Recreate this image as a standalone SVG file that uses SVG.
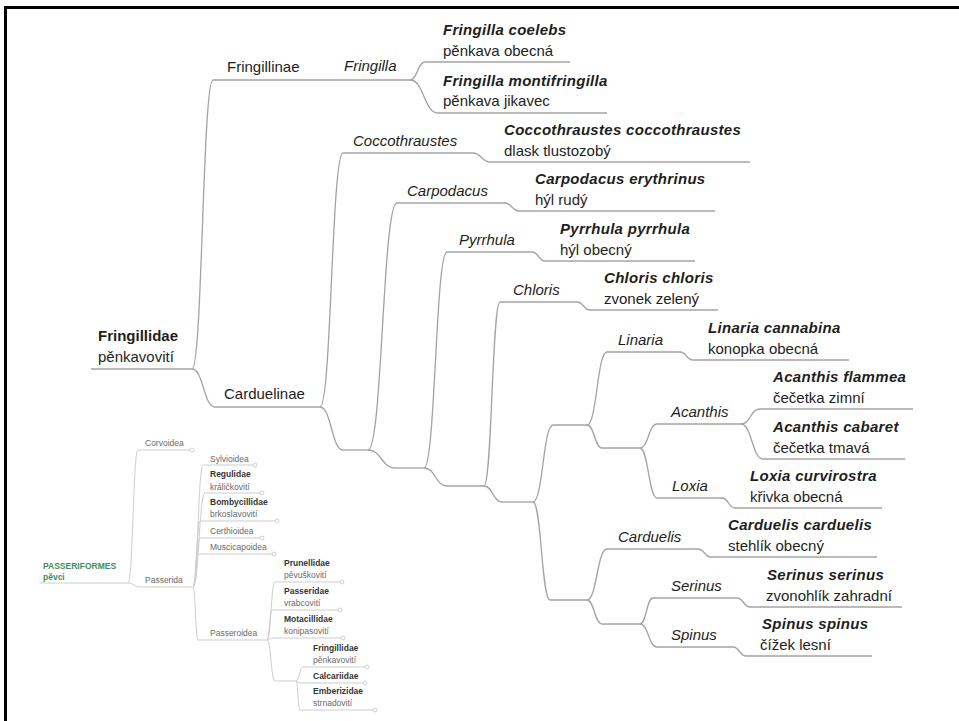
<svg xmlns="http://www.w3.org/2000/svg" width="959" height="721" viewBox="0 0 959 721">
<style>
.ln{fill:none;stroke:#a3a3a3;stroke-width:1.3}
.il{fill:none;stroke:#cdcdcd;stroke-width:1}
.dot{fill:#fff;stroke:#cbcbcb;stroke-width:0.9}
text{font-family:"Liberation Sans",Arial,sans-serif}
.t{font-size:15px;fill:#1e1e1e}
.b{font-weight:bold}
.i{font-style:italic}
.b.i{letter-spacing:0.3px}
.s{font-size:8.5px;fill:#6a6a6a}
.sb{font-size:8.5px;fill:#363636;font-weight:bold}
.gr{font-size:8.5px;fill:#3d8d5f;font-weight:bold}
</style>
<rect width="959" height="721" fill="#fff"/>
<path d="M5.5 721V7.5H959" fill="none" stroke="#000" stroke-width="3"/>

<g id="connectors">
<path class="ln" d="M192 369C202.5 369 202.5 80 213 80"/>
<path class="ln" d="M192 369C203.5 369 203.5 407 215 407"/>
<path class="ln" d="M410 80C417.5 80 417.5 62 425 62"/>
<path class="ln" d="M410 80C424 80 424 113 438 113"/>
<path class="ln" d="M320 407C331.5 407 331.5 153 343 153"/>
<path class="ln" d="M320 407C331.5 407 331.5 450 343 450"/>
<path class="ln" d="M368 450C382.5 450 382.5 203 397 203"/>
<path class="ln" d="M368 450C381.5 450 381.5 468 395 468"/>
<path class="ln" d="M424 468C435.5 468 435.5 252 447 252"/>
<path class="ln" d="M424 468C435.5 468 435.5 486 447 486"/>
<path class="ln" d="M484 486C492 486 492 302 500 302"/>
<path class="ln" d="M484 486C493 486 493 502 502 502"/>
<path class="ln" d="M533 502C543 502 543 425 553 425"/>
<path class="ln" d="M533 502C541.5 502 541.5 600 550 600"/>
<path class="ln" d="M587 425C597 425 597 352 607 352"/>
<path class="ln" d="M587 425C594.5 425 594.5 448 602 448"/>
<path class="ln" d="M640 448C648.5 448 648.5 424 657 424"/>
<path class="ln" d="M640 448C648.5 448 648.5 498 657 498"/>
<path class="ln" d="M741 424C750.5 424 750.5 409 760 409"/>
<path class="ln" d="M741 424C752 424 752 459 763 459"/>
<path class="ln" d="M587 600C597 600 597 549 607 549"/>
<path class="ln" d="M587 600C594.5 600 594.5 624 602 624"/>
<path class="ln" d="M640 624C646.5 624 646.5 598 653 598"/>
<path class="ln" d="M640 624C648.5 624 648.5 647 657 647"/>
<path class="ln" d="M473 153C481.5 153 481.5 162 490 162"/>
<path class="ln" d="M505 203C512 203 512 211 519 211"/>
<path class="ln" d="M532 252C538.5 252 538.5 261 545 261"/>
<path class="ln" d="M577 302C583.5 302 583.5 310 590 310"/>
<path class="ln" d="M680 352C686.5 352 686.5 360 693 360"/>
<path class="ln" d="M722 498C728.5 498 728.5 508 735 508"/>
<path class="ln" d="M698 549C704.5 549 704.5 557 711 557"/>
<path class="ln" d="M737 598C743.5 598 743.5 607 750 607"/>
<path class="ln" d="M733 647C739.5 647 739.5 656 746 656"/>
<!-- inset -->
<path class="il" d="M128 583C133 583 133 450 138 450"/>
<path class="il" d="M128 583C134 583 134 587 140 587"/>
<path class="il" d="M193 587C198 587 198 465 203 465"/>
<path class="il" d="M193 587C199 587 199 493 205 493"/>
<path class="il" d="M193 587C196.5 587 196.5 521 200 521"/>
<path class="il" d="M193 587C196.5 587 196.5 538 200 538"/>
<path class="il" d="M193 587C195.5 587 195.5 554 198 554"/>
<path class="il" d="M193 587C195.5 587 195.5 640 198 640"/>
<path class="il" d="M267 640C271 640 271 582 275 582"/>
<path class="il" d="M267 640C269.5 640 269.5 610 272 610"/>
<path class="il" d="M267 640C269.5 640 269.5 638 272 638"/>
<path class="il" d="M267 640C271 640 271 681 275 681"/>
<path class="il" d="M296 681C299.5 681 299.5 667 303 667"/>
<path class="il" d="M296 681C298 681 298 683 300 683"/>
<path class="il" d="M296 681C298 681 298 710 300 710"/>
</g>

<g id="fringillidae">
<path class="ln" d="M91 369H192"/>
<text class="t b" x="98" y="341">Fringillidae</text>
<text class="t" x="98" y="362">pěnkavovití</text>
</g>
<g id="fringillinae">
<path class="ln" d="M213 80H330"/>
<text class="t" x="227" y="72">Fringillinae</text>
</g>
<g id="fringilla">
<path class="ln" d="M330 80H410"/>
<text class="t i" x="344" y="71">Fringilla</text>
</g>
<g id="fringilla-coelebs">
<path class="ln" d="M425 62H570"/>
<text class="t b i" x="443" y="35">Fringilla coelebs</text>
<text class="t" x="443" y="56">pěnkava obecná</text>
</g>
<g id="fringilla-montifringilla">
<path class="ln" d="M438 113H607"/>
<text class="t b i" x="443" y="86">Fringilla montifringilla</text>
<text class="t" x="443" y="106">pěnkava jikavec</text>
</g>
<g id="carduelinae">
<path class="ln" d="M215 407H320"/>
<text class="t" x="224" y="399">Carduelinae</text>
</g>
<g id="coccothraustes">
<path class="ln" d="M343 153H473"/>
<text class="t i" x="353" y="146">Coccothraustes</text>
</g>
<g id="coccothraustes-coccothraustes">
<path class="ln" d="M490 162H750"/>
<text class="t b i" x="504" y="135">Coccothraustes coccothraustes</text>
<text class="t" x="504" y="156">dlask tlustozobý</text>
</g>
<g id="n1"><path class="ln" d="M343 450H368"/></g>
<g id="carpodacus">
<path class="ln" d="M397 203H505"/>
<text class="t i" x="407" y="196">Carpodacus</text>
</g>
<g id="carpodacus-erythrinus">
<path class="ln" d="M519 211H715"/>
<text class="t b i" x="535" y="184">Carpodacus erythrinus</text>
<text class="t" x="535" y="205">hýl rudý</text>
</g>
<g id="n2"><path class="ln" d="M395 468H424"/></g>
<g id="pyrrhula">
<path class="ln" d="M447 252H532"/>
<text class="t i" x="459" y="245">Pyrrhula</text>
</g>
<g id="pyrrhula-pyrrhula">
<path class="ln" d="M545 261H695"/>
<text class="t b i" x="560" y="234">Pyrrhula pyrrhula</text>
<text class="t" x="560" y="255">hýl obecný</text>
</g>
<g id="n3"><path class="ln" d="M447 486H484"/></g>
<g id="chloris">
<path class="ln" d="M500 302H577"/>
<text class="t i" x="513" y="295">Chloris</text>
</g>
<g id="chloris-chloris">
<path class="ln" d="M590 310H718"/>
<text class="t b i" x="604" y="283">Chloris chloris</text>
<text class="t" x="604" y="304">zvonek zelený</text>
</g>
<g id="n4"><path class="ln" d="M502 502H533"/></g>
<g id="n5"><path class="ln" d="M553 425H587"/></g>
<g id="linaria">
<path class="ln" d="M607 352H680"/>
<text class="t i" x="618" y="345">Linaria</text>
</g>
<g id="linaria-cannabina">
<path class="ln" d="M693 360H849"/>
<text class="t b i" x="708" y="333">Linaria cannabina</text>
<text class="t" x="708" y="354">konopka obecná</text>
</g>
<g id="n7"><path class="ln" d="M602 448H640"/></g>
<g id="acanthis">
<path class="ln" d="M657 424H741"/>
<text class="t i" x="671" y="417">Acanthis</text>
</g>
<g id="acanthis-flammea">
<path class="ln" d="M760 409H913"/>
<text class="t b i" x="773" y="382">Acanthis flammea</text>
<text class="t" x="773" y="403">čečetka zimní</text>
</g>
<g id="acanthis-cabaret">
<path class="ln" d="M763 459H905"/>
<text class="t b i" x="773" y="432">Acanthis cabaret</text>
<text class="t" x="773" y="453">čečetka tmavá</text>
</g>
<g id="loxia">
<path class="ln" d="M657 498H722"/>
<text class="t i" x="672" y="491">Loxia</text>
</g>
<g id="loxia-curvirostra">
<path class="ln" d="M735 508H882"/>
<text class="t b i" x="750" y="481">Loxia curvirostra</text>
<text class="t" x="750" y="502">křivka obecná</text>
</g>
<g id="n6"><path class="ln" d="M550 600H587"/></g>
<g id="carduelis">
<path class="ln" d="M607 549H698"/>
<text class="t i" x="618" y="542">Carduelis</text>
</g>
<g id="carduelis-carduelis">
<path class="ln" d="M711 557H877"/>
<text class="t b i" x="728" y="530">Carduelis carduelis</text>
<text class="t" x="728" y="551">stehlík obecný</text>
</g>
<g id="n8"><path class="ln" d="M602 624H640"/></g>
<g id="serinus">
<path class="ln" d="M653 598H737"/>
<text class="t i" x="671" y="591">Serinus</text>
</g>
<g id="serinus-serinus">
<path class="ln" d="M750 607H902"/>
<text class="t b i" x="767" y="580">Serinus serinus</text>
<text class="t" x="766" y="601">zvonohlík zahradní</text>
</g>
<g id="spinus">
<path class="ln" d="M657 647H733"/>
<text class="t i" x="671" y="640">Spinus</text>
</g>
<g id="spinus-spinus">
<path class="ln" d="M746 656H872"/>
<text class="t b i" x="762" y="629">Spinus spinus</text>
<text class="t" x="760" y="650">čížek lesní</text>
</g>

<!-- inset tree -->
<g id="passeriformes">
<path class="il" d="M40 583H128"/>
<text class="gr" x="43" y="569">PASSERIFORMES</text>
<text class="gr" x="43" y="580">pěvci</text>
</g>
<g id="corvoidea">
<path class="il" d="M138 450H190"/><circle class="dot" cx="192" cy="450" r="2"/>
<text class="s" x="145" y="446">Corvoidea</text>
</g>
<g id="passerida">
<path class="il" d="M140 587H193"/>
<text class="s" x="145" y="583">Passerida</text>
</g>
<g id="sylvioidea">
<path class="il" d="M203 465H253"/><circle class="dot" cx="255" cy="465" r="2"/>
<text class="s" x="210" y="462">Sylvioidea</text>
</g>
<g id="regulidae">
<path class="il" d="M205 493H260"/><circle class="dot" cx="262" cy="493" r="2"/>
<text class="sb" x="210" y="477">Regulidae</text>
<text class="s" x="210" y="490">králičkovití</text>
</g>
<g id="bombycillidae">
<path class="il" d="M200 521H275"/><circle class="dot" cx="277" cy="521" r="2"/>
<text class="sb" x="210" y="505">Bombycillidae</text>
<text class="s" x="210" y="517">brkoslavovití</text>
</g>
<g id="certhioidea">
<path class="il" d="M200 538H260"/><circle class="dot" cx="262" cy="538" r="2"/>
<text class="s" x="210" y="534">Certhioidea</text>
</g>
<g id="muscicapoidea">
<path class="il" d="M198 554H272"/><circle class="dot" cx="274" cy="554" r="2"/>
<text class="s" x="210" y="550">Muscicapoidea</text>
</g>
<g id="passeroidea">
<path class="il" d="M198 640H267"/>
<text class="s" x="210" y="636">Passeroidea</text>
</g>
<g id="prunellidae">
<path class="il" d="M275 582H340"/><circle class="dot" cx="342" cy="582" r="2"/>
<text class="sb" x="284" y="566">Prunellidae</text>
<text class="s" x="284" y="578">pěvuškovití</text>
</g>
<g id="passeridae">
<path class="il" d="M272 610H338"/><circle class="dot" cx="340" cy="610" r="2"/>
<text class="sb" x="284" y="594">Passeridae</text>
<text class="s" x="284" y="606">vrabcovití</text>
</g>
<g id="motacillidae">
<path class="il" d="M272 638H341"/><circle class="dot" cx="343" cy="638" r="2"/>
<text class="sb" x="284" y="622">Motacillidae</text>
<text class="s" x="284" y="634">konipasovití</text>
</g>
<g id="inset-n1"><path class="il" d="M275 681H296"/></g>
<g id="inset-fringillidae">
<path class="il" d="M303 667H365"/><circle class="dot" cx="367" cy="667" r="2"/>
<text class="sb" x="313" y="651">Fringillidae</text>
<text class="s" x="313" y="663">pěnkavovití</text>
</g>
<g id="calcariidae">
<path class="il" d="M300 683H363"/><circle class="dot" cx="365" cy="683" r="2"/>
<text class="sb" x="313" y="679">Calcariidae</text>
</g>
<g id="emberizidae">
<path class="il" d="M300 710H373"/><circle class="dot" cx="375" cy="710" r="2"/>
<text class="sb" x="313" y="694">Emberizidae</text>
<text class="s" x="313" y="706">strnadovití</text>
</g>
</svg>
